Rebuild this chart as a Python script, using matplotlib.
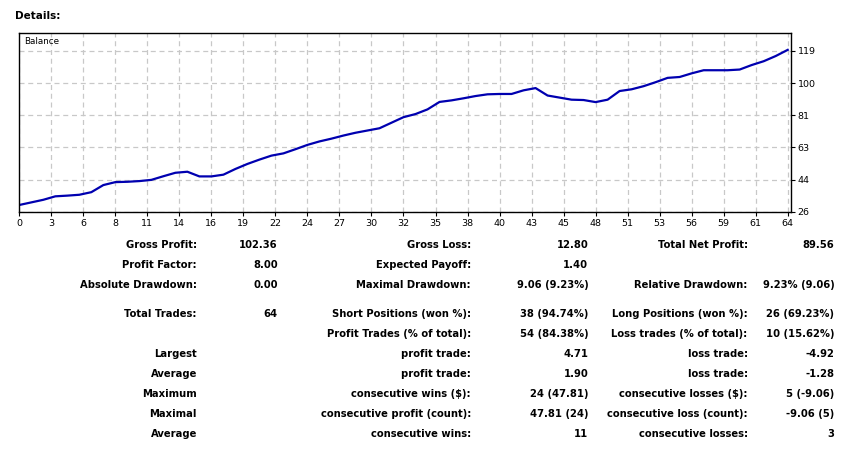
import matplotlib
matplotlib.use('Agg')
import matplotlib.pyplot as plt
import numpy as np

# balance after each trade (0 = initial deposit)
balance = [30.0, 31.5, 33.0, 35.0, 35.4, 35.9, 37.4, 41.5, 43.2, 43.4, 43.8, 44.5,
           46.6, 48.6, 49.2, 46.5, 46.5, 47.5, 50.8, 53.7, 56.2, 58.5, 59.8, 62.2,
           64.7, 66.7, 68.3, 70.1, 71.7, 73.0, 74.3, 77.5, 80.7, 82.5, 85.2, 89.5,
           90.4, 91.6, 92.9, 93.9, 94.1, 94.1, 96.2, 97.5, 93.2, 92.0, 90.8, 90.6,
           89.4, 90.8, 95.8, 96.8, 98.6, 100.9, 103.4, 103.9, 106.0, 107.8, 107.8,
           107.8, 108.2, 110.8, 113.0, 116.0, 119.56]
trades = np.arange(len(balance))

xtick_labels = ['0', '3', '6', '8', '11', '14', '16', '19', '22', '24', '27', '30', '32',
                '35', '38', '40', '43', '45', '48', '51', '53', '56', '59', '61', '64']
ytick_vals = [26.0, 44.6, 63.2, 81.8, 100.4, 119.0]
ytick_labels = ['26', '44', '63', '81', '100', '119']

# report table: (label, value) for three columns, per row
col1 = [('Gross Profit:', '102.36'), ('Profit Factor:', '8.00'), ('Absolute Drawdown:', '0.00'),
        ('Total Trades:', '64'), ('', ''), ('Largest', ''), ('Average', ''),
        ('Maximum', ''), ('Maximal', ''), ('Average', '')]
col2 = [('Gross Loss:', '12.80'), ('Expected Payoff:', '1.40'),
        ('Maximal Drawdown:', '9.06 (9.23%)'), ('Short Positions (won %):', '38 (94.74%)'),
        ('Profit Trades (% of total):', '54 (84.38%)'), ('profit trade:', '4.71'),
        ('profit trade:', '1.90'), ('consecutive wins ($):', '24 (47.81)'),
        ('consecutive profit (count):', '47.81 (24)'), ('consecutive wins:', '11')]
col3 = [('Total Net Profit:', '89.56'), ('', ''), ('Relative Drawdown:', '9.23% (9.06)'),
        ('Long Positions (won %):', '26 (69.23%)'), ('Loss trades (% of total):', '10 (15.62%)'),
        ('loss trade:', '-4.92'), ('loss trade:', '-1.28'),
        ('consecutive losses ($):', '5 (-9.06)'), ('consecutive loss (count):', '-9.06 (5)'),
        ('consecutive losses:', '3')]

W, H = 862, 470
fig = plt.figure(figsize=(W / 100, H / 100), dpi=100)

def px(x, y):
    return x / W, 1 - y / H

fig.text(*px(15, 16), 'Details:', fontsize=7.5, fontweight='bold', ha='left', va='center')

left, right, top, bottom = 19.3, 790.7, 33, 212
ax = fig.add_axes([left / W, 1 - bottom / H, (right - left) / W, (bottom - top) / H])
ax.plot(trades, balance, color='#0000b0', lw=1.6, solid_joinstyle='round')
ax.set_xlim(0, 64.25)
ax.set_ylim(25.95, 129.3)

ax.set_xticks(np.linspace(0, 64, len(xtick_labels)))
ax.set_xticklabels(xtick_labels)
ax.set_yticks(ytick_vals)
ax.set_yticklabels(ytick_labels)
ax.yaxis.tick_right()
ax.tick_params(axis='both', labelsize=6.8, length=3, width=0.8, pad=2, colors='black')
ax.grid(True, color='#c8c8c8', linestyle=(0, (4, 3)), linewidth=0.9)
for s in ax.spines.values():
    s.set_linewidth(1.0)
ax.text(0.006, 0.975, 'Balance', transform=ax.transAxes, fontsize=6.3, va='top', ha='left')

row_y = [244.7, 264.7, 284.7, 314, 334, 354, 374, 394, 414, 434]
col_x = [(197, 277.7), (471, 588.3), (747.7, 834.3)]
for col, (lx, vx) in zip([col1, col2, col3], col_x):
    for (lab, val), y in zip(col, row_y):
        if lab:
            fig.text(*px(lx, y), lab, fontsize=7.2, fontweight='bold', ha='right', va='center')
        if val:
            fig.text(*px(vx, y), val, fontsize=7.2, fontweight='bold', ha='right', va='center')

fig.savefig('out.png', dpi=100)
